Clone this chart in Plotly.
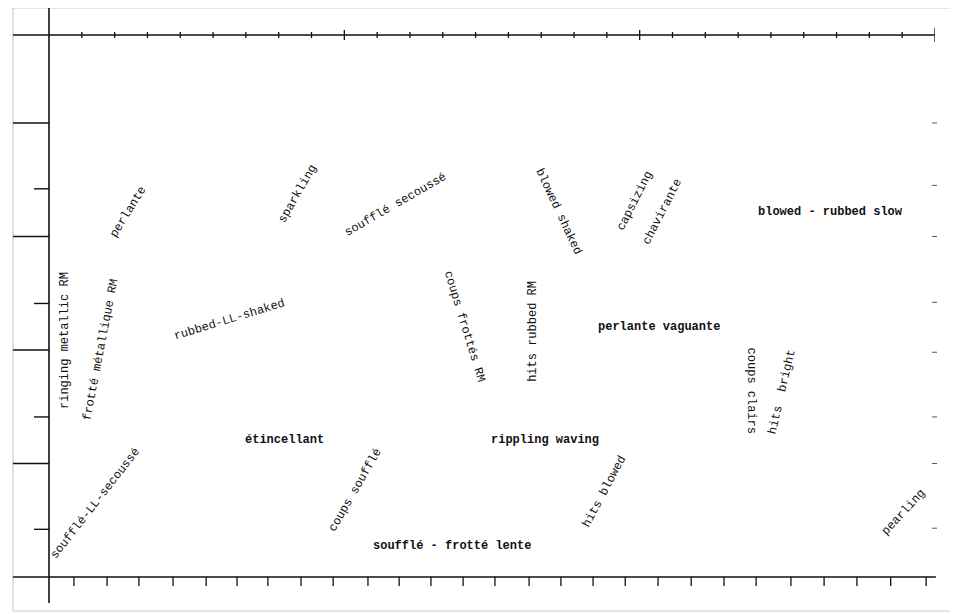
import plotly.graph_objects as go

# ---- data (x in top-axis tick units, y in left long-tick units) ----
labels = [
    "ringing metallic RM", "frotté métallique RM", "perlante", "sparkling",
    "soufflé secoussé", "blowed shaked", "capsizing", "chavirante",
    "blowed - rubbed slow", "rubbed-LL-shaked", "coups frottés RM", "hits rubbed RM",
    "perlante vaguante", "coups clairs", "hits  bright", "étincellant",
    "rippling waving", "soufflé-LL-secoussé", "coups soufflé", "soufflé - frotté lente",
    "hits blowed", "pearling",
]
label_x = [0.49, 1.58, 2.41, 7.59, 10.55, 15.54, 17.86, 18.68, 23.83, 5.49, 12.65, 14.75,
           18.59, 21.40, 22.34, 7.19, 15.12, 1.43, 9.33, 12.28, 16.92, 26.06]
label_y = [2.08, 2.00, 3.22, 3.37, 3.28, 3.22, 3.31, 3.22, 3.22, 2.26, 2.21, 2.16,
           2.20, 1.64, 1.63, 1.21, 1.21, 0.65, 0.77, 0.27, 0.75, 0.57]
label_angle = [-90, -79, -58, -60, -30, 65, -63, -63, 0, -17, 73, -90,
               0, 90, -77, 0, 0, -52, -60, 0, -62, -47]

top_ticks = list(range(1, 28))
top_major = [9, 18, 27]
bottom_ticks = [0.76, 1.77, 2.74, 3.78, 4.79, 5.73, 6.67, 7.68, 8.66, 9.72, 10.67, 11.64,
                12.62, 13.59, 14.63, 15.60, 16.58, 17.56, 18.56, 19.57, 20.57, 21.55,
                22.61, 23.62, 24.62, 25.65, 26.73]
left_long_ticks = [1, 2, 3, 4]
left_short_ticks = [0.42, 1.41, 2.41, 3.42]
right_ticks = [0.43, 1.0, 1.41, 1.98, 2.42, 3.0, 3.45, 4.0]

X_RANGE = [0, 27]
Y_RANGE = [0, 4.775]

INK = "#111111"
FRAME = "#c9ccd3"

fig = go.Figure()
# invisible trace to establish axes
fig.add_trace(go.Scatter(x=X_RANGE, y=Y_RANGE, mode="markers",
                         marker=dict(opacity=0), hoverinfo="skip", showlegend=False))

shapes = []
# outer scan frame (right side falls outside the page)
shapes.append(dict(type="rect", xref="paper", yref="paper", x0=-0.0406, x1=1.08,
                   y0=-0.0627, y1=1.0498, line=dict(color=FRAME, width=1.2)))
# main axis lines
shapes.append(dict(type="line", xref="paper", yref="paper", x0=-0.0406, x1=1.0,
                   y0=1, y1=1, line=dict(color=INK, width=1.4)))
shapes.append(dict(type="line", xref="paper", yref="paper", x0=-0.0406, x1=1.001,
                   y0=0, y1=0, line=dict(color=INK, width=1.4)))
shapes.append(dict(type="line", xref="paper", yref="paper", x0=0, x1=0,
                   y0=-0.048, y1=1.0498, line=dict(color=INK, width=1.6)))

# top ticks (crossing the line)
for t in top_ticks:
    h = 5 if t in top_major else 3
    if t == 27:
        h = 7
    shapes.append(dict(type="line", xref="x", yref="paper", ysizemode="pixel", yanchor=1,
                       x0=t, x1=t, y0=-h, y1=h, line=dict(color=INK, width=1.3)))
# bottom ticks (downward)
for t in bottom_ticks:
    shapes.append(dict(type="line", xref="x", yref="paper", ysizemode="pixel", yanchor=0,
                       x0=t, x1=t, y0=0, y1=-9, line=dict(color=INK, width=1.3)))
# left ticks
for t in left_long_ticks:
    shapes.append(dict(type="line", xref="paper", yref="y", x0=-0.0406, x1=0,
                       y0=t, y1=t, line=dict(color=INK, width=1.6)))
for t in left_short_ticks:
    shapes.append(dict(type="line", xref="paper", yref="y", xsizemode="pixel", xanchor=0,
                       x0=-15, x1=0, y0=t, y1=t, line=dict(color=INK, width=1.4)))
# faint right ticks
for t in right_ticks:
    shapes.append(dict(type="line", xref="paper", yref="y", xsizemode="pixel", xanchor=1,
                       x0=-3, x1=2, y0=t, y1=t, line=dict(color="#555555", width=1)))

annotations = []
for txt, x, y, a in zip(labels, label_x, label_y, label_angle):
    weight = "bold" if a == 0 else "normal"
    annotations.append(dict(x=x, y=y, xref="x", yref="y", text=txt, showarrow=False,
                            textangle=a, xanchor="center", yanchor="middle",
                            font=dict(family="Liberation Mono, Courier New, monospace",
                                      size=12, color=INK, weight=weight)))

# page body has an 8px default margin, so margins are reduced by 8px on left/top
fig.update_layout(
    width=958, height=614, autosize=False,
    margin=dict(l=41, r=31, t=27, b=45, pad=0),
    paper_bgcolor="white", plot_bgcolor="white",
    xaxis=dict(range=X_RANGE, visible=False, fixedrange=True),
    yaxis=dict(range=Y_RANGE, visible=False, fixedrange=True),
    shapes=shapes, annotations=annotations, showlegend=False,
)

fig.write_html("out.html")
